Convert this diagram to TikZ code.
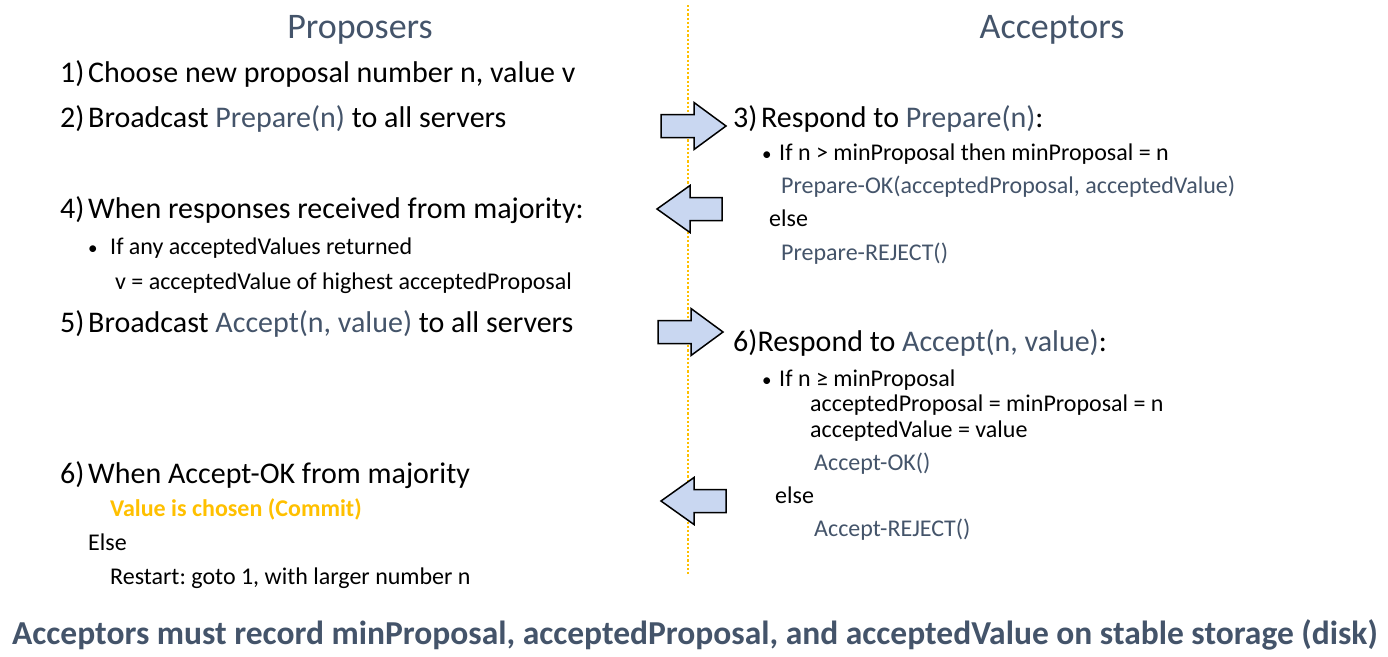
\documentclass[tikz,border=0pt]{standalone}
\usepackage{fontspec}
\setmainfont{Carlito}
\usepackage{tikz}
\frenchspacing

\definecolor{slateblue}{HTML}{44546A}
\definecolor{commitorange}{HTML}{FFC000}
\definecolor{arrowblue}{RGB}{201,215,241}

\newcommand{\num}[1]{\makebox[28pt][l]{#1}}

\begin{document}
\begin{tikzpicture}[x=1pt,y=-1pt,
  title/.style={anchor=base,inner sep=0pt,text=slateblue,font=\fontsize{36}{42}\selectfont},
  item/.style={anchor=base west,inner sep=0pt,font=\fontsize{30}{36}\selectfont},
  sub/.style={anchor=base west,inner sep=0pt,font=\fontsize{24}{28}\selectfont},
  msg/.style={sub,text=slateblue},
  blockarrow/.style={draw=black,fill=arrowblue,line width=1.5pt,line join=miter},
  sendarrow/.pic={\draw[blockarrow] (0,-11.5) -- (33,-11.5) -- (33,-23.5) -- (65,0) -- (33,23.5) -- (33,11.5) -- (0,11.5) -- cycle;},
  replyarrow/.pic={\draw[blockarrow] (0,0) -- (33,-23.5) -- (33,-11.5) -- (65,-11.5) -- (65,11.5) -- (33,11.5) -- (33,23.5) -- cycle;}]

\useasboundingbox (0,0) rectangle (1388,656);

\draw[commitorange,line width=2.2pt,dotted] (688,5) -- (688,576);

\node (prop) [title] at (360,38) {Proposers};
\node (acc) [title] at (1052,38) {Acceptors};

\node (p1) [item] at (60,82) {\num{1)}Choose new proposal number n, value v};
\node (p2) [item] at (60,127) {\num{2)}Broadcast \textcolor{slateblue}{Prepare(n)} to all servers};
\node (p4) [item] at (60,218) {\num{4)}When responses received from majority:};
\node (p4a) [sub] at (88,254) {\makebox[22pt][l]{\fontsize{19}{20}\selectfont•}If any acceptedValues returned};
\node (p4b) [sub] at (115,289) {v = acceptedValue of highest acceptedProposal};
\node (p5) [item] at (60,332) {\num{5)}Broadcast \textcolor{slateblue}{Accept(n, value)} to all servers};
\node (p6) [item] at (60,483) {\num{6)}When Accept-OK from majority};
\node (p6a) [sub,text=commitorange,font=\fontsize{24}{28}\bfseries] at (110,516) {Value is chosen (Commit)};
\node (p6b) [sub] at (88,550) {Else};
\node (p6c) [sub] at (110,584) {Restart: goto 1, with larger number n};

\node (a3) [item] at (733,127) {\num{3)}Respond to \textcolor{slateblue}{Prepare(n)}:};
\node (a3a) [sub] at (762,160) {\makebox[17pt][l]{\fontsize{19}{20}\selectfont•}If n > minProposal then minProposal = n};
\node (a3b) [msg] at (781,193) {Prepare-OK(acceptedProposal, acceptedValue)};
\node (a3c) [sub] at (769,226) {else};
\node (a3d) [msg] at (781,260) {Prepare-REJECT()};

\node (a6) [item] at (733,351) {6)Respond to \textcolor{slateblue}{Accept(n, value)}:};
\node (a6a) [sub] at (762,386) {\makebox[17pt][l]{\fontsize{19}{20}\selectfont•}If n ≥ minProposal};
\node (a6b) [sub] at (810,411) {acceptedProposal = minProposal = n};
\node (a6c) [sub] at (810,437) {acceptedValue = value};
\node (a6d) [msg] at (814,470) {Accept-OK()};
\node (a6e) [sub] at (775,503) {else};
\node (a6f) [msg] at (814,536) {Accept-REJECT()};

\node (note) [anchor=base,inner sep=0pt,text=slateblue,font=\fontsize{33.5}{38}\bfseries] at (695,644) {Acceptors must record minProposal, acceptedProposal, and acceptedValue on stable storage (disk)};

\pic at (661,126) {sendarrow};
\pic at (657,209) {replyarrow};
\pic at (658,332) {sendarrow};
\pic at (661,501) {replyarrow};
\end{tikzpicture}
\end{document}
